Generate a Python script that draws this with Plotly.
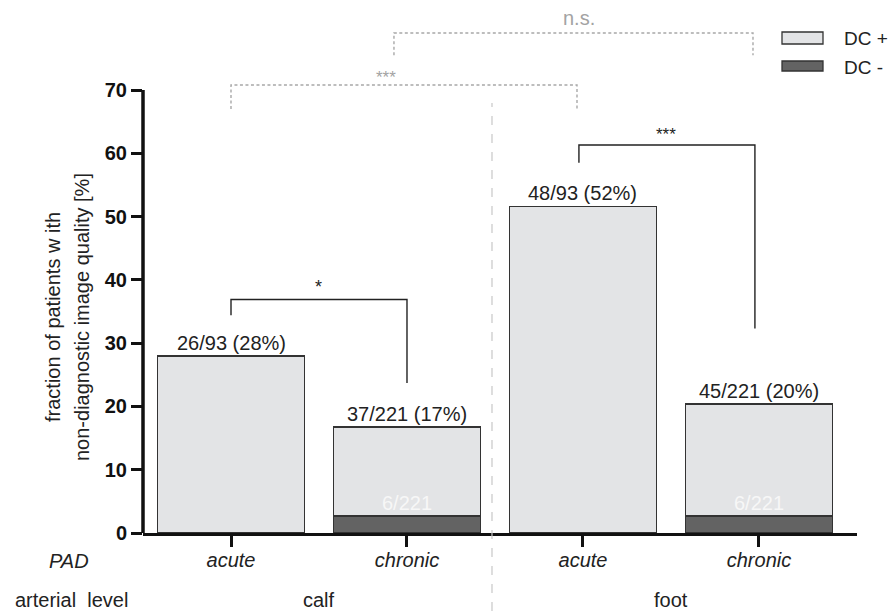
import plotly.graph_objects as go

# ---- data ----
arterial_level = ["calf", "calf", "foot", "foot"]
pad_type = ["acute", "chronic", "acute", "chronic"]
nondiag_counts = [26, 37, 48, 45]
patient_totals = [93, 221, 93, 221]
dc_minus_counts = [0, 6, 0, 6]
y_ticks = [0, 10, 20, 30, 40, 50, 60, 70]

total_pct = [100 * n / d for n, d in zip(nondiag_counts, patient_totals)]
dc_minus_pct = [100 * m / d for m, d in zip(dc_minus_counts, patient_totals)]
dc_plus_pct = [t - m for t, m in zip(total_pct, dc_minus_pct)]
total_labels = [f"{n}/{d} ({round(100 * n / d)}%)" for n, d in zip(nondiag_counts, patient_totals)]
minus_labels = [f"{m}/{d}" if m else "" for m, d in zip(dc_minus_counts, patient_totals)]
xpos = list(range(len(pad_type)))

FONT = "Liberation Sans, Arial, sans-serif"
TXT = "#222222"
GRAY = "#a3a3a3"
LIGHT = "#e3e4e6"
DARK = "#636363"
EDGE = "#333333"

W, H = 888, 611
PL, PR, PT, PB = 143, 857, 0, 533   # plot area in pixels


def px(xw):
    return (xw - PL) / (PR - PL)


def py(yw):
    return (PB - yw) / (PB - PT)


fig = go.Figure()
fig.add_trace(go.Bar(x=xpos, y=dc_minus_pct, name="DC -", width=0.835,
                     marker=dict(color=DARK, line=dict(color=EDGE, width=1.5)),
                     showlegend=False, hoverinfo="skip"))
fig.add_trace(go.Bar(x=xpos, y=dc_plus_pct, name="DC +", width=0.835,
                     marker=dict(color=LIGHT, line=dict(color=EDGE, width=1.5)),
                     showlegend=False, hoverinfo="skip"))

shapes = []
annotations = []

# y axis line (only 0..70)
shapes.append(dict(type="line", xref="paper", yref="y", x0=0, x1=0, y0=0, y1=70,
                   line=dict(color="#111111", width=3.5)))

# separator between arterial levels
shapes.append(dict(type="line", xref="x", yref="paper", x0=1.483, x1=1.483, y0=py(611), y1=py(103),
                   line=dict(color="#c8c8c8", width=1.2, dash="dash")))


def bracket(x0, x1, ytop, yl, yr, color, dash, width):
    path = f"M {x0},{yl} L {x0},{ytop} L {x1},{ytop} L {x1},{yr}"
    shapes.append(dict(type="path", xref="x", yref="y", path=path,
                       line=dict(color=color, width=width, dash=dash)))


bracket(0, 1, 36.9, 34.4, 23.7, TXT, "solid", 1.4)
bracket(1.977, 2.977, 61.3, 58.5, 32.3, TXT, "solid", 1.4)
bracket(0, 1.966, 70.8, 67.0, 66.7, "#a8a8a8", "3px,2.5px", 1.4)
bracket(0.926, 2.966, 79.0, 75.5, 75.5, "#a8a8a8", "3px,2.5px", 1.4)

sig = [
    dict(x=0.5, y=38.8, text="*", font=dict(size=18, color=TXT)),
    dict(x=2.47, y=62.9, text="***", font=dict(size=17, color=TXT)),
    dict(x=0.88, y=71.9, text="***", font=dict(size=17, color=GRAY)),
    dict(x=1.98, y=81.3, text="n.s.", font=dict(size=20, color=GRAY)),
]
for a in sig:
    a.update(xref="x", yref="y", showarrow=False, xanchor="center", yanchor="middle")
annotations += sig

for i in xpos:
    annotations.append(dict(x=i, y=total_pct[i], xref="x", yref="y", text=total_labels[i],
                            xanchor="center", yanchor="bottom", yshift=0, showarrow=False,
                            font=dict(size=20, color=TXT)))
    if minus_labels[i]:
        annotations.append(dict(x=i, y=dc_minus_pct[i], xref="x", yref="y", text=minus_labels[i],
                                xanchor="center", yanchor="bottom", yshift=0, showarrow=False,
                                font=dict(size=20, color="#f7f7f7")))

# arterial level labels
for lvl in ["calf", "foot"]:
    idx = [i for i, v in enumerate(arterial_level) if v == lvl]
    annotations.append(dict(x=sum(idx) / len(idx), y=py(600), xref="x", yref="paper", text=lvl,
                            xanchor="center", yanchor="middle",
                            showarrow=False, font=dict(size=20, color=TXT)))

annotations += [
    dict(x=px(69), y=py(561), text="<i>PAD</i>", font=dict(size=20, color=TXT)),
    dict(x=px(71), y=py(600), text="arterial  level", font=dict(size=20, color=TXT)),
    dict(x=px(53), y=py(317), text="fraction of patients w ith", textangle=-90,
         font=dict(size=20, color=TXT)),
    dict(x=px(82), y=py(317), text="non-diagnostic image quality [%]", textangle=-90,
         font=dict(size=20, color=TXT)),
]
for a in annotations[-4:]:
    a.update(xref="paper", yref="paper", showarrow=False, xanchor="center", yanchor="middle")

# manual legend
legend_items = [("DC +", LIGHT, 32, 44, 38), ("DC -", DARK, 61, 71, 67)]
for name, col, ytop, ybot, yc in legend_items:
    shapes.append(dict(type="rect", xref="paper", yref="paper",
                       x0=px(782), x1=px(823), y0=py(ybot), y1=py(ytop),
                       fillcolor=col, line=dict(color=EDGE, width=1.3)))
    annotations.append(dict(x=px(842), y=py(yc), xref="paper", yref="paper",
                            text=name, xanchor="left", yanchor="middle", showarrow=False,
                            font=dict(size=19, color=TXT)))

yrange_top = 70 * (PB - PT) / (PB - 90)

fig.update_layout(
    width=W, height=H,
    margin=dict(l=PL, r=W - PR, t=PT, b=H - PB),
    barmode="stack",
    plot_bgcolor="white", paper_bgcolor="white",
    font=dict(family=FONT, color=TXT),
    shapes=shapes, annotations=annotations,
    xaxis=dict(range=[-0.5, 3.557], tickvals=xpos,
               ticktext=[f"<i>{t}</i>" for t in pad_type],
               tickfont=dict(size=20, color=TXT),
               showline=True, linecolor="#111111", linewidth=3,
               ticks="outside", ticklen=11, tickwidth=3, tickcolor="#111111",
               ticklabelstandoff=-4,
               showgrid=False, zeroline=False, fixedrange=True),
    yaxis=dict(range=[0, yrange_top], tickvals=y_ticks,
               tickfont=dict(size=20, color="#111111", weight="bold"),
               showline=False, ticks="outside", ticklen=11, tickwidth=3, tickcolor="#111111",
               showgrid=False, zeroline=False, fixedrange=True),
)

fig.write_html(
    "out.html",
    config={"displayModeBar": False},
    post_script="document.body.style.margin='0';document.body.style.overflow='hidden';",
)
